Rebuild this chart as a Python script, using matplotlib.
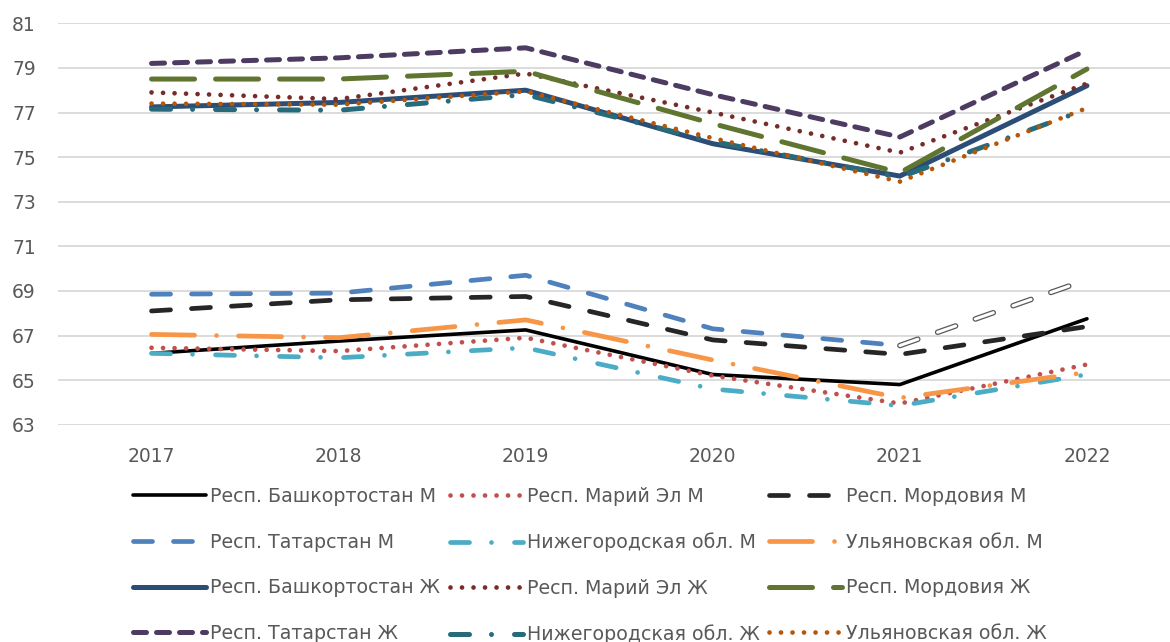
import numpy as np
import matplotlib
matplotlib.use('Agg')
import matplotlib.pyplot as plt
import matplotlib.patheffects as pe

plt.rcParams['font.family'] = ['DejaVu Sans']
plt.rcParams['lines.scale_dashes'] = False

years = ['2017', '2018', '2019', '2020', '2021', '2022']

# male
bash_m = [66.2, 66.75, 67.25, 65.25, 64.8, 67.75]
mari_m = [66.45, 66.3, 66.9, 65.2, 63.95, 65.7]
mord_m = [68.1, 68.6, 68.75, 66.8, 66.15, 67.4]
tatar_m = [68.85, 68.9, 69.7, 67.3, 66.55, 69.5]
nizh_m = [66.2, 66.0, 66.45, 64.6, 63.85, 65.25]
ulyan_m = [67.05, 66.9, 67.7, 65.9, 64.2, 65.35]
# female
bash_f = [77.25, 77.45, 78.0, 75.6, 74.15, 78.2]
mari_f = [77.9, 77.6, 78.75, 77.0, 75.2, 78.3]
mord_f = [78.5, 78.5, 78.85, 76.5, 74.3, 78.95]
tatar_f = [79.2, 79.45, 79.9, 77.8, 75.9, 79.8]
nizh_f = [77.15, 77.1, 77.8, 75.7, 74.1, 77.15]
ulyan_f = [77.4, 77.35, 77.95, 75.85, 73.9, 77.2]

labels = ['Респ. Башкортостан М', 'Респ. Марий Эл М', 'Респ. Мордовия М',
          'Респ. Татарстан М', 'Нижегородская обл. М', 'Ульяновская обл. М',
          'Респ. Башкортостан Ж', 'Респ. Марий Эл Ж', 'Респ. Мордовия Ж',
          'Респ. Татарстан Ж', 'Нижегородская обл. Ж', 'Ульяновская обл. Ж']
series = [bash_m, mari_m, mord_m, tatar_m, nizh_m, ulyan_m,
          bash_f, mari_f, mord_f, tatar_f, nizh_f, ulyan_f]

colors = ['#000000', '#C0504D', '#262626', '#4F81BD', '#4BACC6', '#F79646',
          '#2C4D75', '#772C2A', '#5F7530', '#4D3B62', '#276A7C', '#B65708']

def px(*v):
    # dash pattern given in pixels -> points (dpi 100)
    return tuple(a * 0.72 for a in v)

dot = px(0.01, 11.5)
sdash = px(19, 21)
dashdot = px(19, 22, 0.01, 23)
ldash = px(43, 21)
ldashdot = px(43, 22, 0.01, 22)
tdash = px(13, 10)

styles = [None, dot, sdash, sdash, dashdot, ldashdot,
          None, dot, ldash, tdash, dashdot, dot]
widths = [2.6, 3.4, 3.4, 3.4, 3.4, 3.4, 3.6, 3.4, 3.6, 3.6, 3.6, 3.4]

fig = plt.figure(figsize=(11.7, 6.42), dpi=100)
ax = fig.add_axes([58 / 1170, 217.3 / 642, (1180.5 - 58) / 1170, 401.4 / 642])

x = np.arange(len(years))
handles = []
for i, (s, c, st, lw) in enumerate(zip(series, colors, styles, widths)):
    kw = dict(color=c, lw=lw, solid_capstyle='round', dash_capstyle='round')
    if st is None:
        ln, = ax.plot(x, s, '-', **kw)
    else:
        ln, = ax.plot(x, s, dashes=st, **kw)
    if i == 3:
        # last segment of Tatarstan M shows up as hollow dashes
        ln.set_data(x[:5], s[:5])
        seg, = ax.plot(x[4:], s[4:], dashes=px(19, 21), color='white', lw=2.2,
                       dash_capstyle='round')
        seg.set_path_effects([pe.Stroke(linewidth=4.0, foreground='#595959'), pe.Normal()])
    handles.append(ln)

ax.set_xlim(-0.5, 5.5)
ax.set_ylim(63, 81)
ax.set_yticks(np.arange(63, 82, 2))
ax.set_xticks(x)
ax.set_xticklabels(years)
ax.tick_params(length=0, labelsize=13.5, labelcolor='#595959', pad=16)
ax.grid(axis='y', color='#D9D9D9', lw=1.3)
ax.set_axisbelow(True)
for sp in ax.spines.values():
    sp.set_visible(False)

# legend is filled row by row in the reference
order = [r * 3 + c for c in range(3) for r in range(4)]
fig.legend([handles[k] for k in order], [labels[k] for k in order], ncol=3,
           loc='upper left', bbox_to_anchor=(133 / 1170, 1 - 487 / 642),
           frameon=False, fontsize=13.7, handlelength=3.85, handletextpad=0.2,
           columnspacing=0.5, labelspacing=1.4, borderpad=0, borderaxespad=0,
           labelcolor='#595959')

fig.savefig('out.png', dpi=100)
